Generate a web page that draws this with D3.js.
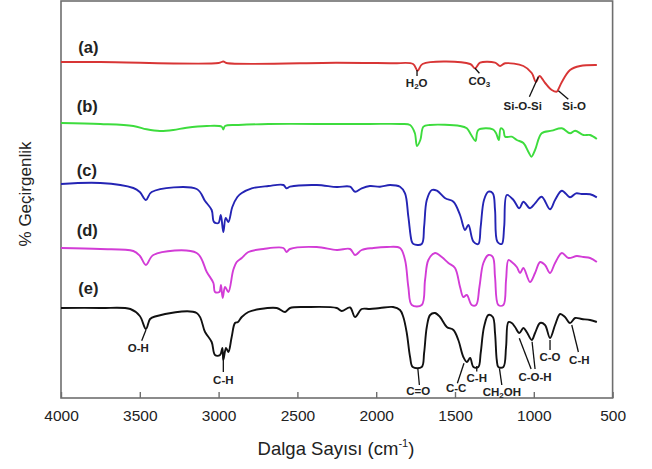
<!DOCTYPE html>
<html>
<head>
<meta charset="utf-8">
<script src="https://cdn.jsdelivr.net/npm/d3@7"></script>
<style>
body { margin: 0; background: #fff; }
text { font-family: "Liberation Sans", Arial, sans-serif; }
</style>
</head>
<body>
<svg id="chart"></svg>
<script>
var width = 652;
var height = 469;
var margins = { left: 61, right: 39.4, top: 1, bottom: 71 };

// wavenumbers (cm-1) and transmittance (arbitrary, offset) for each spectrum
var waveA = [4000, 3750, 3000, 2970, 2950, 2250, 2040, 1890, 1766, 1737, 1706, 1404, 1373, 1341, 1246, 1214, 1182, 1066, 1013, 986, 964, 928, 886, 854, 844, 822, 770, 706, 600];
var valA  = [336, 336, 335, 336.5, 335, 335.3, 335, 334.7, 334, 327.3, 334, 334, 329.7, 335.3, 335.3, 332, 334.7, 332, 325, 316, 322, 315, 308, 306.3, 308.7, 316, 328, 332, 333];

var waveB = [4000, 3750, 3541, 3457, 3372, 3287, 3203, 3075, 2980, 2970, 2959, 2874, 2684, 2250, 2040, 1849, 1785, 1755, 1741, 1720, 1700, 1660, 1468, 1425, 1397, 1370, 1352, 1260, 1240, 1222, 1210, 1193, 1182, 1140, 1108, 1066, 1034, 1015, 992, 950, 886, 822, 770, 738, 685, 643, 600];
var valB  = [275, 274, 272, 268.7, 267, 268, 270.3, 272, 271.3, 268.5, 272, 273, 274, 274, 274, 274, 273, 265, 252, 258, 271.3, 273, 272, 269.7, 263, 257, 268, 268.7, 265, 258, 269.7, 268, 261.3, 261.3, 258, 255, 246, 241.3, 248, 264.7, 267.3, 269.7, 264.7, 267.3, 263, 263, 259];

var waveC = [4000, 3750, 3541, 3500, 3461, 3425, 3139, 3086, 3044, 3029, 3001, 2986, 2970, 2955, 2938, 2913, 2881, 2853, 2790, 2684, 2589, 2569, 2547, 2377, 2250, 2166, 2134, 2092, 2040, 1976, 1912, 1849, 1817, 1796, 1774, 1764, 1711, 1696, 1679, 1647, 1615, 1562, 1510, 1468, 1436, 1415, 1383, 1352, 1337, 1316, 1288, 1260, 1246, 1231, 1203, 1188, 1171, 1129, 1092, 1066, 1024, 992, 950, 897, 865, 822, 770, 732, 696, 643, 600];
var valC  = [214, 215, 210, 206, 198, 206, 209, 197, 188, 176, 175, 183, 166, 180, 176, 191, 201, 205, 209.7, 212, 213, 209.7, 211.3, 213, 211, 211.3, 206.3, 209.7, 212, 211.3, 213, 211.3, 204.7, 181.3, 156.3, 154, 154, 171.3, 198, 208, 207.3, 199.7, 196.3, 183, 168, 173, 156.3, 154, 171.3, 198, 206.3, 204.7, 188, 156.3, 154, 171.3, 203, 198, 189.7, 196.3, 189.7, 194.7, 201.3, 188.7, 198, 207.3, 200.7, 204.7, 204, 203.7, 200.7];

var waveD = [4000, 3750, 3541, 3499, 3461, 3414, 3139, 3075, 3033, 3023, 2995, 2985, 2974, 2959, 2938, 2907, 2885, 2853, 2811, 2716, 2589, 2569, 2547, 2377, 2250, 2166, 2134, 2092, 2018, 1933, 1849, 1817, 1796, 1774, 1711, 1690, 1669, 1627, 1584, 1542, 1500, 1468, 1447, 1425, 1394, 1366, 1345, 1320, 1288, 1260, 1246, 1225, 1193, 1176, 1161, 1140, 1108, 1087, 1066, 1024, 992, 960, 929, 897, 865, 822, 780, 727, 685, 643, 600];
var valD  = [150, 149, 147, 142, 133, 143, 145, 126, 115, 106, 106, 113, 100, 111, 106, 128, 136, 140, 146, 149, 150, 146, 149, 151, 148, 149, 143, 148, 150, 151, 150, 138, 111, 93, 93, 118, 138, 145, 141, 135, 130, 111, 101, 103, 93, 93, 111, 135, 143, 141, 121, 93, 93, 118, 138, 136, 131, 125, 130, 116, 125, 136, 133, 125, 135, 145, 140, 142, 141, 140, 136];

var waveE = [4000, 3750, 3560, 3500, 3461, 3435, 3403, 3139, 3086, 3044, 3023, 2991, 2976, 2970, 2953, 2938, 2917, 2896, 2877, 2853, 2811, 2737, 2631, 2578, 2547, 2441, 2250, 2219, 2166, 2134, 2092, 2040, 1976, 1893, 1849, 1828, 1806, 1785, 1768, 1711, 1696, 1679, 1658, 1627, 1595, 1552, 1510, 1479, 1447, 1425, 1404, 1383, 1352, 1337, 1316, 1288, 1260, 1246, 1235, 1225, 1193, 1176, 1161, 1140, 1119, 1092, 1066, 1045, 1013, 992, 960, 929, 897, 865, 833, 802, 770, 738, 696, 643, 600];
var valE  = [90, 90, 89, 82, 69, 79, 81.5, 85, 66, 56, 43, 43, 50, 38, 50, 46, 61, 75, 76, 81, 86, 89, 90, 86, 90, 91, 90, 87, 90.5, 81, 89, 89, 90, 91, 88, 81, 65, 41, 31, 31, 45, 71, 83, 85, 81, 71, 68, 58, 41, 36, 40, 31, 31, 45, 71, 83, 81, 65, 38, 31, 31, 51, 76, 75, 71, 65, 70, 66, 58, 65, 75, 73, 60, 73, 84, 81, 75, 80, 79, 78, 76];

var seriesNames = ["(a)", "(b)", "(c)", "(d)", "(e)"];
var seriesColors = ["#d83535", "#3ddc3d", "#2424b4", "#d23cd6", "#111111"];
var seriesWaves = [waveA, waveB, waveC, waveD, waveE];
var seriesVals = [valA, valB, valC, valD, valE];
// where each series name sits (wavenumber, value)
var nameWave = [3890, 3900, 3900, 3900, 3890];
var nameVal = [351, 291.3, 228, 168, 109.7];

var xTicks = [4000, 3500, 3000, 2500, 2000, 1500, 1000, 500];

// band assignments: text, sub-script part, rest, text pos, leader lines
var bands = [
    { t: "H", s: "2", r: "O", w: 1743, v: 315, lines: [[1741, 328, 1741, 322]] },
    { t: "CO", s: "3", r: "", w: 1345, v: 317, lines: [[1373, 329.7, 1345, 324.7]] },
    { t: "Si-O-Si", s: "", r: "", w: 1070, v: 292, lines: [[971, 321.3, 1028, 301.3]] },
    { t: "Si-O", s: "", r: "", w: 744, v: 292, lines: [[844, 307.3, 781, 298.7]] },
    { t: "O-H", s: "", r: "", w: 3509, v: 50, lines: [[3461, 68, 3488, 57.3]] },
    { t: "C-H", s: "", r: "", w: 2970, v: 18, lines: [[2970, 41, 2970, 26]] },
    { t: "C=O", s: "", r: "", w: 1733, v: 7.3, lines: [[1736, 29.7, 1726, 13]] },
    { t: "C-C", s: "", r: "", w: 1493, v: 9.7, lines: [[1443, 34.7, 1485, 14.7]] },
    { t: "C-H", s: "", r: "", w: 1362, v: 19.7, lines: [[1362, 32, 1362, 26.5]] },
    { t: "CH", s: "2", r: "OH", w: 1203, v: 6.3, lines: [[1218, 29.7, 1203, 13]] },
    { t: "C-O-H", s: "", r: "", w: 992, v: 21.3, lines: [[1092, 59.7, 1017, 29], [1011, 56.3, 992, 29]] },
    { t: "C-O", s: "", r: "", w: 897, v: 41.3, lines: [[897, 58, 897, 48]] },
    { t: "C-H", s: "", r: "", w: 711, v: 38, lines: [[759, 73, 717, 46]] }
];

var xscale = d3.scaleLinear()
                .domain([4000, 500])
                .range([margins.left, width - margins.right]);
var yscale = d3.scaleLinear()
                .domain([0, 397])
                .range([height - margins.bottom, margins.top]);

var svg = d3.select("#chart")
            .attr("width", width)
            .attr("height", height);

// plot frame
svg.append("rect")
    .attr("x", margins.left)
    .attr("y", margins.top)
    .attr("width", width - margins.left - margins.right)
    .attr("height", height - margins.top - margins.bottom)
    .attr("fill", "none")
    .attr("stroke", "#6e6e6e")
    .attr("stroke-width", 1.6);

var xaxis = d3.axisBottom(xscale)
                .tickValues(xTicks)
                .tickFormat(d3.format("d"))
                .tickSizeInner(-6)
                .tickSizeOuter(0)
                .tickPadding(12);
var gx = svg.append("g")
        .attr("transform", "translate(0," + (height - margins.bottom) + ")")
        .call(xaxis);
gx.select(".domain").remove();
gx.selectAll("line").attr("stroke", "#6e6e6e").attr("stroke-width", 1.4);
gx.selectAll("text")
    .attr("font-size", "15.5px")
    .attr("font-family", "Liberation Sans, Arial, sans-serif")
    .attr("fill", "#222");

// spectra
var line = d3.line()
    .x(function(d){ return xscale(d[0]); })
    .y(function(d){ return yscale(d[1]); })
    .curve(d3.curveCatmullRom.alpha(0.5));

seriesWaves.forEach(function(waves, i){
    var pts = waves.map(function(w, j){ return [w, seriesVals[i][j]]; });
    svg.append("path")
        .datum(pts)
        .attr("d", line)
        .attr("fill", "none")
        .attr("stroke", seriesColors[i])
        .attr("stroke-width", 1.9)
        .attr("stroke-linejoin", "round");
    svg.append("text")
        .attr("x", xscale(nameWave[i]))
        .attr("y", yscale(nameVal[i]))
        .attr("dy", "0.35em")
        .attr("font-size", "16.5px")
        .attr("font-weight", "bold")
        .attr("fill", "#222")
        .text(seriesNames[i]);
});

// band labels
bands.forEach(function(b){
    b.lines.forEach(function(l){
        svg.append("line")
            .attr("x1", xscale(l[0])).attr("y1", yscale(l[1]))
            .attr("x2", xscale(l[2])).attr("y2", yscale(l[3]))
            .attr("stroke", "#111")
            .attr("stroke-width", 1.3);
    });
    var t = svg.append("text")
        .attr("x", xscale(b.w))
        .attr("y", yscale(b.v))
        .attr("dy", "0.35em")
        .attr("text-anchor", "middle")
        .attr("font-size", "11.5px")
        .attr("font-weight", "bold")
        .attr("fill", "#222");
    t.append("tspan").text(b.t);
    if (b.s) {
        t.append("tspan").attr("font-size", "8px").attr("dy", "2").text(b.s);
        t.append("tspan").attr("dy", "-2").text(b.r);
    }
});

// axis titles
var xt = svg.append("text")
    .attr("x", 336)
    .attr("y", 455)
    .attr("text-anchor", "middle")
    .attr("font-size", "18.5px")
    .attr("fill", "#222");
xt.append("tspan").text("Dalga Sayısı (cm");
xt.append("tspan").attr("font-size", "11px").attr("dy", "-8").text("-1");
xt.append("tspan").attr("dy", "8").text(")");

svg.append("text")
    .attr("transform", "translate(31,194) rotate(-90)")
    .attr("text-anchor", "middle")
    .attr("font-size", "17px")
    .attr("fill", "#222")
    .text("% Geçirgenlik");
</script>
</body>
</html>
